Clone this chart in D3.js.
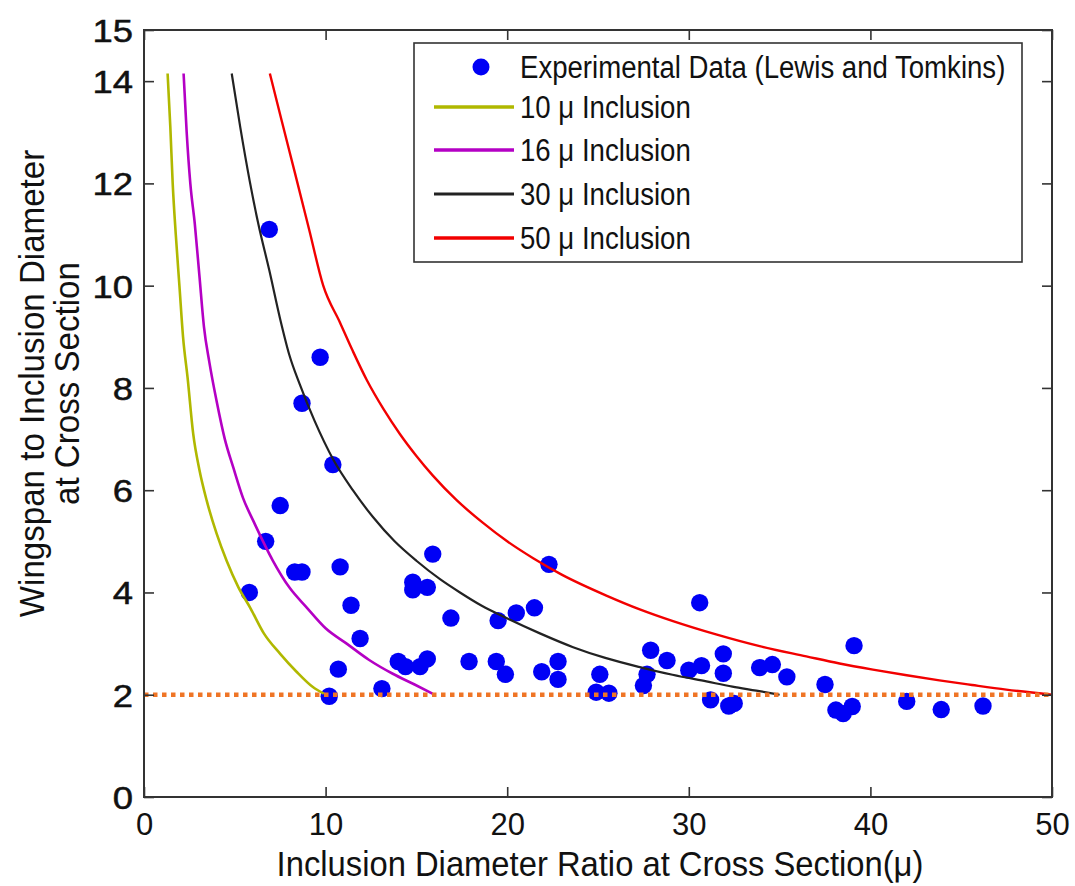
<!DOCTYPE html>
<html>
<head>
<meta charset="utf-8">
<script src="https://cdn.jsdelivr.net/npm/d3@7/dist/d3.min.js"></script>
<style>
  html, body { margin: 0; padding: 0; background: #fff; }
  svg { display: block; }
  text { font-family: "Liberation Sans", Arial, sans-serif; fill: #111; }
</style>
</head>
<body>
<svg id="chart" width="1075" height="886"></svg>
<script>
// Experimental measurements (Lewis and Tomkins)
const expX = [6.9, 9.7, 8.7, 10.4, 7.5, 6.7, 8.3, 8.7, 10.8, 5.8,
              15.9, 14.8, 14.8, 15.6, 11.4, 16.9, 11.9, 10.7, 14.0, 14.4,
              15.2, 15.6, 10.2, 13.1, 22.3, 17.9, 19.5, 20.5, 21.5, 19.4,
              19.9, 21.9, 22.8, 22.8, 25.1, 24.9, 25.6, 27.9, 28.8, 27.7,
              27.5, 30.6, 30.0, 30.7, 31.9, 31.9, 31.2, 32.2, 32.5, 33.9,
              34.6, 35.4, 39.1, 37.5, 38.1, 38.5, 39.0, 42.0, 43.9, 46.2];
const expY = [11.1, 8.6, 7.7, 6.5, 5.7, 5.0, 4.4, 4.4, 4.5, 4.0,
              4.75, 4.2, 4.05, 4.1, 3.75, 3.5, 3.1, 2.5, 2.65, 2.55,
              2.55, 2.7, 1.97, 2.12, 4.55, 2.65, 3.45, 3.6, 3.7, 2.65,
              2.4, 2.45, 2.65, 2.3, 2.4, 2.05, 2.03, 2.87, 2.67, 2.4,
              2.18, 3.8, 2.48, 2.57, 2.8, 2.42, 1.9, 1.78, 1.83, 2.53,
              2.59, 2.35, 2.96, 2.2, 1.7, 1.63, 1.77, 1.87, 1.71, 1.78];

// Model curves, one per inclusion size: [diameter ratio, wingspan ratio]
const curve10 = [[1.30,14.15],[1.45,13.1],[1.58,12.0],[1.75,11.0],[1.95,10.0],[2.15,9.0],
  [2.40,8.2],[2.71,7.1],[3.05,6.4],[3.45,5.8],[4.0,5.15],[4.55,4.62],[5.2,4.1],
  [5.85,3.7],[6.6,3.2],[7.5,2.8],[8.4,2.45],[9.3,2.15],[9.9,2.02]];
const curve16 = [[2.18,14.15],[2.35,13.0],[2.55,12.0],[2.8,11.2],[3.05,10.2],[3.3,9.2],
  [3.6,8.5],[4.0,7.74],[4.45,7.0],[4.92,6.44],[5.45,5.85],[6.02,5.4],[7.1,4.62],
  [8.0,4.1],[8.95,3.71],[10.0,3.3],[11.16,3.0],[12.4,2.68],[13.7,2.41],[14.9,2.2],[15.9,2.02]];
const curve30 = [[4.83,14.15],[5.3,13.1],[5.83,12.03],[6.3,11.2],[6.9,10.3],[7.49,9.36],
  [8.0,8.65],[8.59,8.06],[9.4,7.35],[10.42,6.6],[11.5,6.0],[12.62,5.47],[13.8,5.0],
  [15.0,4.62],[16.3,4.26],[17.4,4.0],[18.6,3.74],[19.96,3.5],[21.8,3.2],[23.63,2.93],
  [25.4,2.72],[27.3,2.54],[29.1,2.39],[30.97,2.26],[32.4,2.16],[33.72,2.08],[35.0,2.0]];
const curve50 = [[6.93,14.15],[7.6,13.2],[8.3,12.22],[9.1,11.09],[9.87,10.0],
  [10.79,9.28],[11.5,8.72],[12.26,8.16],[13.2,7.58],[14.09,7.1],[15.0,6.67],[15.92,6.28],
  [17.2,5.81],[18.67,5.36],[19.96,5.01],[21.43,4.67],[23.0,4.35],[25.46,3.94],[27.3,3.67],
  [29.13,3.44],[31.5,3.18],[33.9,2.95],[36.47,2.75],[38.3,2.61],[40.14,2.49],[42.0,2.38],
  [43.8,2.28],[45.6,2.19],[47.48,2.1],[50.0,2.0]];

const seriesNames = ["10 \u03bc Inclusion", "16 \u03bc Inclusion", "30 \u03bc Inclusion", "50 \u03bc Inclusion"];
const scatterName = "Experimental Data (Lewis and Tomkins)";

// Threshold wingspan ratio drawn as a dotted reference line
const thresholdY = 2;

const xTicks = [0, 10, 20, 30, 40, 50];
const yTicks = [0, 2, 4, 6, 8, 10, 12, 14, 15];

const xTitle = "Inclusion Diameter Ratio at Cross Section(\u03bc)";
const yTitleLines = ["Wingspan to Inclusion Diameter", "at Cross Section"];

// ---- layout ----
const W = 1075, H = 886;
const m = { left: 144, right: 23, top: 30, bottom: 89 };
const pw = W - m.left - m.right, ph = H - m.top - m.bottom;

const svg = d3.select("#chart");
const g = svg.append("g").attr("transform", `translate(${m.left},${m.top})`);

const x = d3.scaleLinear().domain([0, 50]).range([0, pw]);
const y = d3.scaleLinear().domain([0, 15]).range([ph, 0]);

const curves = [
  { data: curve10, color: "#b0b800", width: 2.6 },
  { data: curve16, color: "#b400c4", width: 2.6 },
  { data: curve30, color: "#222222", width: 2.2 },
  { data: curve50, color: "#f20000", width: 2.4 }
];
const dotColor = "#0000f5";
const thresholdColor = "#ef7526";

// ---- data marks ----
g.append("g").selectAll("circle")
  .data(expX.map((v, i) => [v, expY[i]]))
  .join("circle")
  .attr("cx", d => x(d[0]))
  .attr("cy", d => y(d[1]))
  .attr("r", 8.7)
  .attr("fill", dotColor);

const line = d3.line().x(d => x(d[0])).y(d => y(d[1])).curve(d3.curveMonotoneX);
g.append("g").selectAll("path")
  .data(curves)
  .join("path")
  .attr("d", d => line(d.data))
  .attr("fill", "none")
  .attr("stroke", d => d.color)
  .attr("stroke-width", d => d.width)
  .attr("stroke-linejoin", "round");

g.append("line")
  .attr("x1", x(0)).attr("x2", x(50))
  .attr("y1", y(thresholdY)).attr("y2", y(thresholdY))
  .attr("stroke", thresholdColor)
  .attr("stroke-width", 4.5)
  .attr("stroke-dasharray", "4.5,4.5");

// ---- axes (inward ticks on all four sides) ----
const fmt = d3.format("d");
const styleAxis = sel => {
  sel.select(".domain").remove();
  sel.selectAll(".tick line").attr("stroke", "#333").attr("stroke-width", 1.6);
  sel.selectAll(".tick text").style("font-size", "31px").attr("fill", "#111");
};

g.append("g").attr("transform", `translate(0,${ph})`)
  .call(d3.axisBottom(x).tickValues(xTicks).tickFormat(fmt).tickSize(-10).tickPadding(16))
  .call(styleAxis);

// y tick labels are drawn a little wider and heavier
const yLabelScale = 1.14;
g.append("g")
  .call(d3.axisLeft(y).tickValues(yTicks).tickFormat(fmt).tickSize(-10).tickPadding(11))
  .call(styleAxis)
  .call(s => s.selectAll(".tick text")
    .style("font-size", "32px")
    .attr("x", -11 / yLabelScale)
    .attr("dy", "0.36em")
    .attr("transform", `scale(${yLabelScale},1)`)
    .attr("stroke", "#111").attr("stroke-width", 0.5));

g.append("g")
  .call(d3.axisTop(x).tickValues(xTicks).tickFormat("").tickSize(-10))
  .call(styleAxis);

g.append("g").attr("transform", `translate(${pw},0)`)
  .call(d3.axisRight(y).tickValues(yTicks).tickFormat("").tickSize(-10))
  .call(styleAxis);

// frame
g.append("rect")
  .attr("x", 0).attr("y", 0).attr("width", pw).attr("height", ph)
  .attr("fill", "none").attr("stroke", "#333").attr("stroke-width", 2);

// ---- axis titles ----
svg.append("g")
  .attr("transform", `translate(${m.left + pw / 2 + 2},${H - 10}) scale(0.91,1)`)
  .append("text")
  .attr("text-anchor", "middle")
  .style("font-size", "36px")
  .text(xTitle);

const yt = svg.append("g")
  .attr("transform", `translate(31,${m.top + ph / 2 - 30}) rotate(-90) scale(0.92,1)`);
yt.selectAll("text")
  .data(yTitleLines)
  .join("text")
  .attr("text-anchor", "middle")
  .attr("y", (d, i) => i * 35)
  .attr("dy", "0.36em")
  .style("font-size", "36px")
  .text(d => d);

// ---- legend ----
const lg = svg.append("g").attr("transform", "translate(414,43)");
lg.append("rect")
  .attr("width", 608).attr("height", 219)
  .attr("fill", "#fff").attr("stroke", "#333").attr("stroke-width", 1.6);

const rowY = [24, 64, 107, 151, 195];
const legendItems = [{ name: scatterName, type: "dot" }]
  .concat(curves.map((c, i) => ({ name: seriesNames[i], type: "line", color: c.color, width: c.width + 1 })));

const rows = lg.selectAll("g.row")
  .data(legendItems)
  .join("g")
  .attr("class", "row")
  .attr("transform", (d, i) => `translate(0,${rowY[i]})`);

rows.filter(d => d.type === "dot").append("circle")
  .attr("cx", 67).attr("cy", 0).attr("r", 8.5).attr("fill", dotColor);

rows.filter(d => d.type === "line").append("line")
  .attr("x1", 20).attr("x2", 100).attr("y1", 0).attr("y2", 0)
  .attr("stroke", d => d.color).attr("stroke-width", d => d.width);

rows.append("g")
  .attr("transform", "translate(106,0) scale(0.89,1)")
  .append("text")
  .attr("dy", "0.36em")
  .style("font-size", "31px")
  .text(d => d.name);
</script>
</body>
</html>
